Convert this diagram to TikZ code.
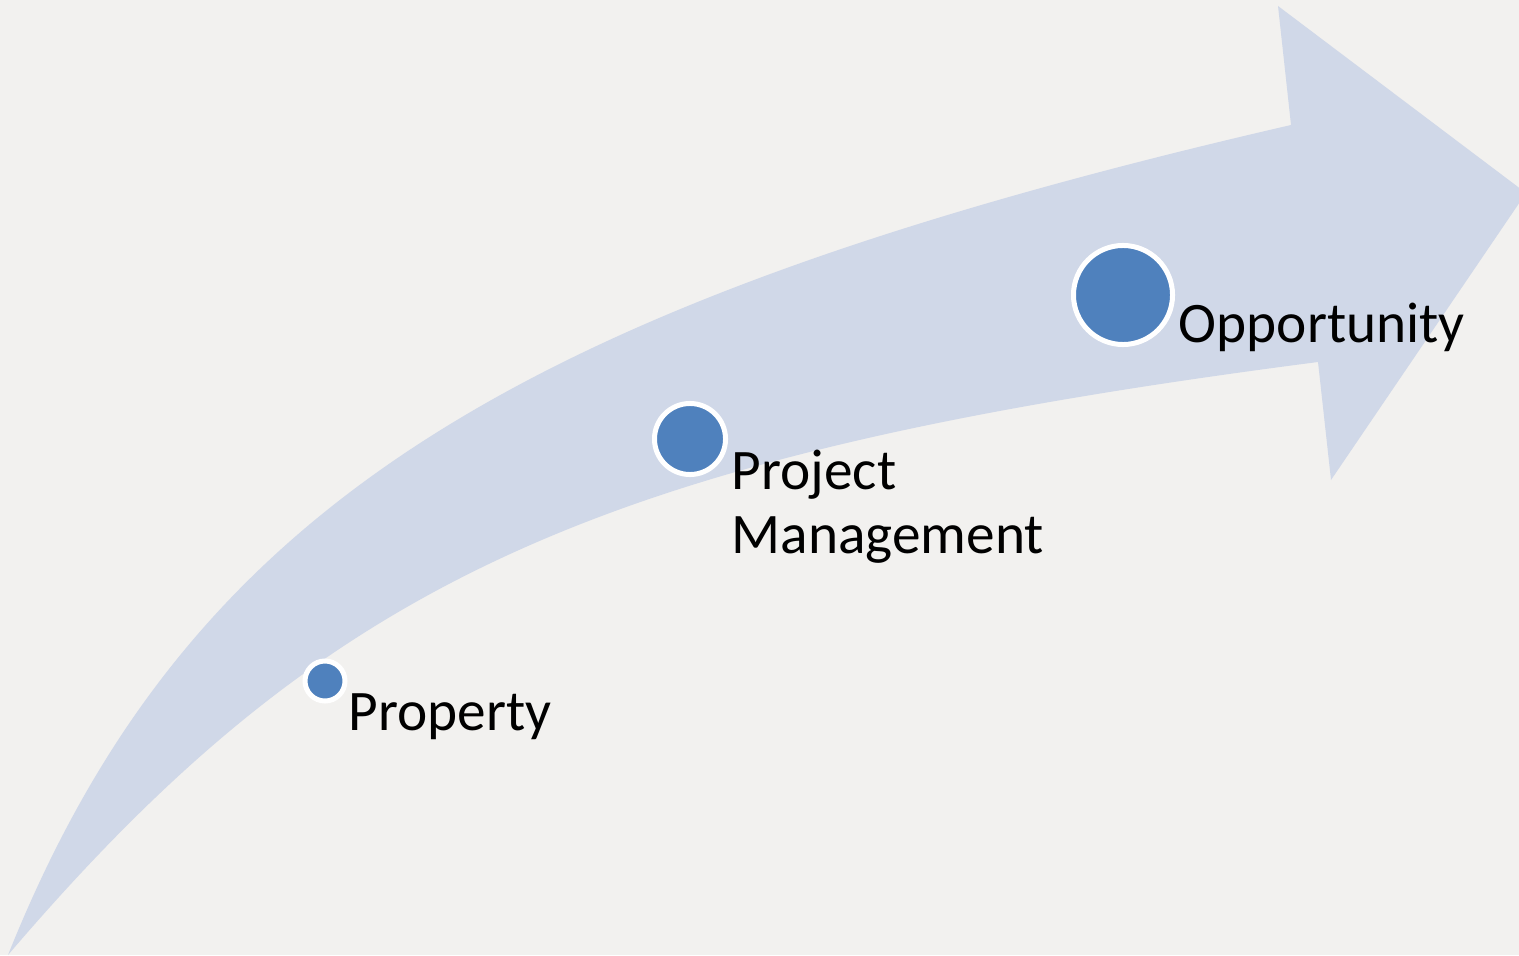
\documentclass[tikz,border=0pt]{standalone}
\usepackage{fontspec}
\setmainfont{Carlito}
\usetikzlibrary{positioning}
\definecolor{paper}{RGB}{242,241,239}
\definecolor{bandblue}{RGB}{208,216,232}
\definecolor{dotblue}{RGB}{79,129,189}

\begin{document}
\begin{tikzpicture}[x=0.01cm, y=-0.01cm,
    band/.style={fill=bandblue},
    milestone/.style={circle, fill=dotblue, draw=white, line width=0.05cm, inner sep=0pt},
    lbl/.style={font=\fontsize{16.3}{18.2}\selectfont, inner sep=0pt, anchor=base west, align=left}]
  \useasboundingbox (0,0) rectangle (1519,955);
  \fill[paper] (0,0) rectangle (1519,955);
  \clip (0,0) rectangle (1519,955);
  % the curved arrow
  \fill[band] (8,955) .. controls (185,513) and (506,306) .. (1291,125)
    -- (1278,6) -- (1526,193) -- (1331,480) -- (1318,362)
    .. controls (600,455) and (330,578) .. (8,955) -- cycle;
  % milestones
  \node[milestone, minimum size=0.40cm] (prop) at (325,681) {};
  \node[milestone, minimum size=0.71cm] (proj) at (690,439) {};
  \node[milestone, minimum size=0.99cm] (opp) at (1123,295) {};
  \node[lbl] (propText) at (348,730) {Property};
  \node[lbl] (projText) at (731,553) {Project\\Management};
  \node[lbl] (oppText) at (1178,342) {Opportunity};
\end{tikzpicture}
\end{document}
